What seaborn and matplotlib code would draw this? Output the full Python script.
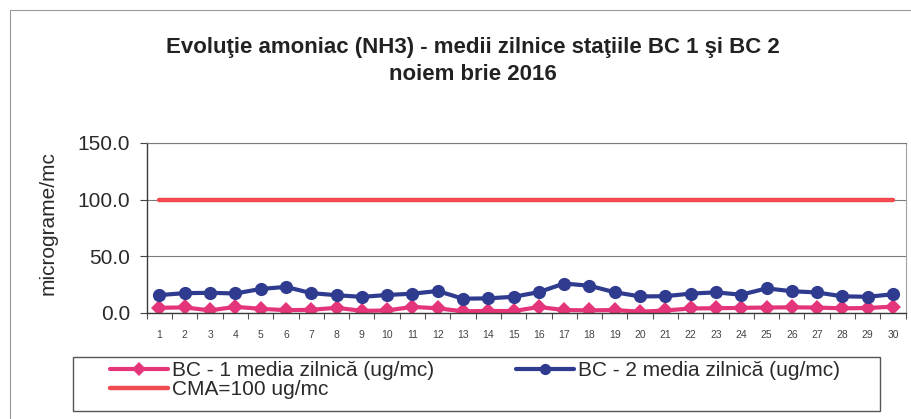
import numpy as np
import pandas as pd
import seaborn as sns
import matplotlib.pyplot as plt
from matplotlib.patches import Rectangle
from matplotlib.ticker import FormatStrFormatter

# daily means, November 2016
days = list(range(1, 31))
bc1 = [4.6, 4.9, 2.3, 5.4, 3.7, 2.5, 2.8, 4.6, 1.9, 2.2, 5.4, 4.1, 1.5, 1.8, 1.7,
       5.3, 2.6, 2.3, 2.6, 1.1, 2.2, 4.0, 4.2, 4.5, 4.8, 5.0, 4.8, 4.1, 4.4, 5.6]
bc2 = [15.8, 17.5, 17.8, 17.2, 21.2, 23.0, 17.5, 15.7, 14.2, 15.9, 17.0, 19.4, 12.6, 12.9, 14.3,
       18.4, 26.0, 24.0, 18.3, 14.6, 14.8, 17.1, 18.2, 16.1, 21.7, 19.2, 18.1, 14.7, 14.3, 16.5]
cma = [100.0] * 30
y_ticks = [0, 50, 100, 150]

lbl_bc1 = "BC - 1 media zilnică (ug/mc)"
lbl_bc2 = "BC - 2 media zilnică (ug/mc)"
lbl_cma = "CMA=100 ug/mc"

PINK = "#e5357a"
BLUE = "#2f3b8e"
RED = "#f14a50"
TXT = "#2a2a2a"

sns.set_style("white")
plt.rcParams["font.family"] = ["Liberation Sans", "DejaVu Sans"]

W, H = 912, 419
fig = plt.figure(figsize=(W / 100, H / 100), dpi=100)
ax = fig.add_axes([0.161, 0.253, 0.832, 0.406])

sns.lineplot(x=days, y=bc1, ax=ax, color=PINK, lw=3, marker="D", markersize=8,
             markeredgewidth=0, label=lbl_bc1)
sns.lineplot(x=days, y=bc2, ax=ax, color=BLUE, lw=3, marker="o", markersize=9.5,
             markeredgewidth=0, label=lbl_bc2)
sns.lineplot(x=days, y=cma, ax=ax, color=RED, lw=3.2, label=lbl_cma)

ax.set_xlim(0.5, 30.5)
ax.set_ylim(0, 150)
ax.set_yticks(y_ticks)
ax.yaxis.set_major_formatter(FormatStrFormatter("%.1f"))
ax.set_xticks(days)
ax.set_xticks(np.arange(0.5, 31, 1), minor=True)
ax.yaxis.grid(True, color="#7a7a7a", lw=0.8)
ax.xaxis.grid(False)

ax.tick_params(axis="x", which="major", length=0, labelsize=7.5, labelcolor="#444", pad=12)
ax.tick_params(axis="x", which="minor", bottom=True, length=4, color="#555", width=0.8)
ax.tick_params(axis="y", left=True, length=5, color="#444", width=0.8,
               labelsize=15, labelcolor=TXT, pad=7)

for side in ["left", "bottom"]:
    ax.spines[side].set_color("#3a3a3a")
    ax.spines[side].set_linewidth(1.0)
ax.spines["top"].set_color("#7a7a7a")
ax.spines["top"].set_linewidth(0.8)
ax.spines["right"].set_color("#a0a0a0")
ax.spines["right"].set_linewidth(0.8)

ax.set_xlabel("")
ax.set_ylabel("micrograme/mc", fontsize=15, color=TXT)
ax.yaxis.set_label_coords(-0.118, 0.53)

fig.text(0.518, 1 - 47 / H, "Evoluţie amoniac (NH3) - medii zilnice staţiile BC 1 şi BC 2",
         ha="center", va="center", fontsize=16, fontweight="bold", color="#222")
fig.text(0.518, 1 - 74 / H, "noiem brie 2016",
         ha="center", va="center", fontsize=16, fontweight="bold", color="#222")

# legend, drawn without frame; the box is a separate rectangle
handles, labels = ax.get_legend_handles_labels()
order = [labels.index(lbl_bc1), labels.index(lbl_cma), labels.index(lbl_bc2)]
ax.get_legend().remove()
fig.legend([handles[i] for i in order], [labels[i] for i in order],
           loc="upper left", bbox_to_anchor=(110 / W, 1 - 361 / H), ncol=2,
           frameon=False, fontsize=15, borderpad=0, borderaxespad=0,
           handlelength=2.8, handletextpad=0.2, columnspacing=3.9, labelspacing=0.0,
           markerscale=0.85, labelcolor=TXT)
fig.add_artist(Rectangle((73 / W, 1 - 411 / H), (880 - 73) / W, 54 / H,
                         transform=fig.transFigure, fill=False, edgecolor="#555", lw=1))
# outer chart frame (only top and left edges fall inside the scan)
fig.add_artist(Rectangle((10 / W, -0.2), 1.3, 1.2 - 10 / H,
                         transform=fig.transFigure, fill=False, edgecolor="#9a9a9a", lw=0.8))

fig.savefig("out.png", dpi=100)
